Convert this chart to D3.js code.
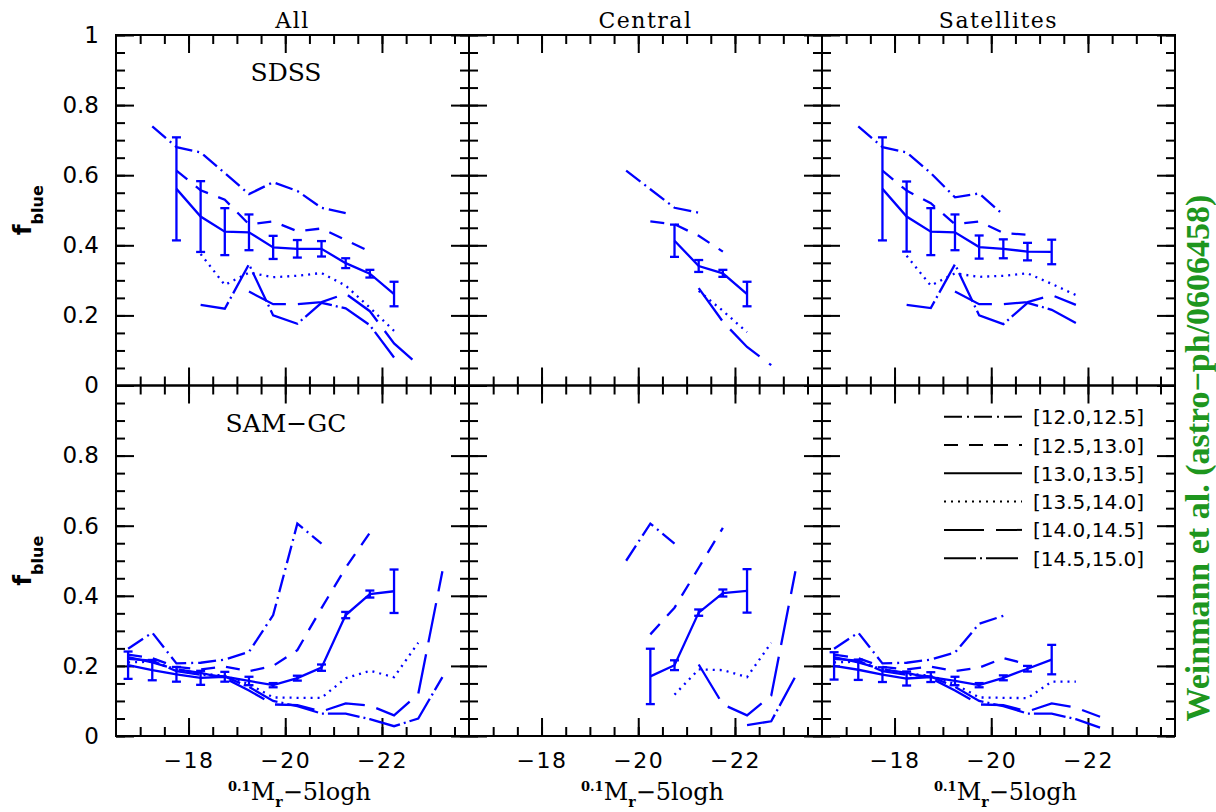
<!DOCTYPE html>
<html>
<head>
<meta charset="utf-8">
<title>Blue fraction vs luminosity</title>
<style>
  body { margin: 0; background: #fff; }
</style>
</head>
<body>
<svg id="chart" width="1216" height="812"></svg>
<script src="https://cdn.jsdelivr.net/npm/d3@7/dist/d3.min.js"></script>
<script>
// magnitude bins (0.1Mr - 5logh), 0.5 mag wide
var mags = [-16.75, -17.25, -17.75, -18.25, -18.75, -19.25, -19.75, -20.25, -20.75, -21.25, -21.75, -22.25, -22.75, -23.25];
var _ = null;

var massBins = ["[12.0,12.5]", "[12.5,13.0]", "[13.0,13.5]", "[13.5,14.0]", "[14.0,14.5]", "[14.5,15.0]"];
var colTitles = ["All", "Central", "Satellites"];
var rowNames = ["SDSS", "SAM\u2212GC"];

// f_blue per mass bin, one row per bin in massBins order
var sdssAll = [
  [_, .739, .68, .665, .606, .546, .58, .555, .507, .492, _, _, _, _],
  [_, _, .613, .557, .53, .46, .468, .44, .448, .415, .382, _, _, _],
  [_, _, .561, .482, .439, .437, .394, .39, .39, .349, .319, .261, _, _],
  [_, _, _, .375, .287, .322, .309, .313, .321, .285, .222, .156, _, _],
  [_, _, _, _, _, .268, .232, .232, .238, .262, .212, .12, .059, _],
  [_, _, _, .23, .219, .346, .2, .176, .236, .22, .172, .08, _, _]
];
var sdssAllErr = [_, _, .147, .101, .067, .051, .033, .025, .022, .014, .011, .035, _, _];

var sdssCen = [
  [_, _, _, _, _, _, .613, .56, .507, .493, _, _, _, _],
  [_, _, _, _, _, _, _, .468, .46, .427, .382, _, _, _],
  [_, _, _, _, _, _, _, _, .413, .341, .32, .261, _, _],
  [_, _, _, _, _, _, _, _, _, .27, .213, .152, _, _],
  [_, _, _, _, _, _, _, _, _, .278, .182, .11, .058, _],
  [_, _, _, _, _, _, _, _, _, _, _, _, _, _]
];
var sdssCenErr = [_, _, _, _, _, _, _, _, .046, .017, .01, .035, _, _];

var sdssSat = [
  [_, .739, .68, .665, .606, .537, .548, .487, _, _, _, _, _, _],
  [_, _, .613, .556, .52, .46, .468, .435, .43, _, _, _, _, _],
  [_, _, .561, .482, .439, .437, .395, .39, .382, .381, _, _, _, _],
  [_, _, _, .37, .285, .32, .31, .313, .32, .29, .258, _, _, _],
  [_, _, _, _, _, .268, .232, .232, .238, .258, .23, _, _, _],
  [_, _, _, .23, .221, .346, .2, .175, .236, .216, .178, _, _, _]
];
var sdssSatErr = [_, _, .147, .1, .067, .051, .033, .027, .025, .035, _, _, _, _];

var samAll = [
  [.249, .295, .207, .209, .218, .24, .345, .606, .549, _, _, _, _, _],
  [.232, .222, .197, .19, .198, .185, .2, .245, .365, .48, .58, _, _, _],
  [.202, .188, .176, .166, .169, .157, .145, .165, .195, .345, .405, .413, _, _],
  [.21, .212, .19, .178, .172, .148, .11, .109, .109, .165, .186, .168, .266, _],
  [.225, .21, .19, .18, .165, .13, .09, .088, .07, .093, .087, .059, .12, .47],
  [.22, .215, .185, .175, .17, .14, .1, .085, .064, .064, .048, .028, .05, .168]
];
var samAllErr = [.039, .029, .021, .02, .014, .012, .006, .007, .009, .009, .01, .062, _, _];

var samCen = [
  [_, _, _, _, _, _, .5, .606, .549, _, _, _, _, _],
  [_, _, _, _, _, _, _, .29, .366, .48, .594, _, _, _],
  [_, _, _, _, _, _, _, .17, .202, .352, .408, .414, _, _],
  [_, _, _, _, _, _, _, _, .118, .19, .188, .168, .266, _],
  [_, _, _, _, _, _, _, _, _, .204, .09, .059, .115, .47],
  [_, _, _, _, _, _, _, _, _, _, _, .031, .042, .17]
];
var samCenErr = [_, _, _, _, _, _, _, .079, .014, .009, .01, .062, _, _];

var samSat = [
  [.249, .295, .207, .209, .218, .238, .32, .343, _, _, _, _, _, _],
  [.232, .222, .197, .19, .198, .185, .195, .222, .205, _, _, _, _, _],
  [.2, .189, .175, .164, .168, .157, .145, .166, .192, .218, _, _, _, _],
  [.21, .212, .19, .178, .172, .148, .11, .109, .108, .155, .155, _, _, _],
  [.225, .21, .19, .18, .165, .13, .09, .088, .07, .093, .081, .055, _, _],
  [.22, .215, .185, .175, .17, .14, .1, .085, .064, .064, .048, .024, _, _]
];
var samSatErr = [.039, .029, .021, .02, .014, .012, .006, .007, .008, .042, _, _, _, _];

// line style per mass bin
var dashes = ["18,5,2,5", "14,11", null, "2,5", "40,12", "32,4,2,4"];

var W = 353, H = 350.5;
var colX = [116, 469, 822], rowY = [35, 385.5];
var blue = "#0000ff";

var svg = d3.select("#chart");

var x = d3.scaleLinear().domain([-16.5, -23.8]).range([0, W]);
var y = d3.scaleLinear().domain([0, 1]).range([H, 0]);

var panels = [
  {row: 0, col: 0, vals: sdssAll, err: sdssAllErr},
  {row: 0, col: 1, vals: sdssCen, err: sdssCenErr},
  {row: 0, col: 2, vals: sdssSat, err: sdssSatErr},
  {row: 1, col: 0, vals: samAll, err: samAllErr},
  {row: 1, col: 1, vals: samCen, err: samCenErr},
  {row: 1, col: 2, vals: samSat, err: samSatErr}
];

var xMajor = [-18, -20, -22];
var xMinor = d3.range(-17, -23.51, -0.5);
var yMajor = [0, 0.2, 0.4, 0.6, 0.8, 1];
var yMinor = d3.range(0, 1.001, 0.05);

function strip(g) {
  g.select(".domain").remove();
  g.selectAll("line").attr("stroke", "#000").attr("stroke-width", 2);
}

var line = d3.line()
  .defined(function(d) { return d.f !== null; })
  .x(function(d) { return x(d.m); })
  .y(function(d) { return y(d.f); });

panels.forEach(function(p) {
  var g = svg.append("g")
    .attr("transform", "translate(" + colX[p.col] + "," + rowY[p.row] + ")");

  // inward ticks on all four sides
  [[xMinor, 9], [xMajor, 18]].forEach(function(t) {
    g.append("g").attr("transform", "translate(0," + H + ")")
      .call(d3.axisBottom(x).tickValues(t[0]).tickSize(-t[1]).tickFormat("")).call(strip);
    g.append("g")
      .call(d3.axisTop(x).tickValues(t[0]).tickSize(-t[1]).tickFormat("")).call(strip);
  });
  [[yMinor, 9], [yMajor, 18]].forEach(function(t) {
    g.append("g")
      .call(d3.axisLeft(y).tickValues(t[0]).tickSize(-t[1]).tickFormat("")).call(strip);
    g.append("g").attr("transform", "translate(" + W + ",0)")
      .call(d3.axisRight(y).tickValues(t[0]).tickSize(-t[1]).tickFormat("")).call(strip);
  });

  g.append("rect")
    .attr("width", W).attr("height", H)
    .attr("fill", "none").attr("stroke", "#000").attr("stroke-width", 2);

  // tick labels on outer edges
  if (p.col === 0) {
    var yl = g.append("g")
      .call(d3.axisLeft(y)
        .tickValues(p.row === 0 ? yMajor : yMajor.slice(0, 5))
        .tickSize(0).tickPadding(17)
        .tickFormat(function(d) { return d === 0 || d === 1 ? String(d) : d.toFixed(1); }));
    yl.select(".domain").remove();
    yl.attr("font-family", "DejaVu Sans, sans-serif").attr("font-size", 23);
  }
  if (p.row === 1) {
    var xl = g.append("g").attr("transform", "translate(0," + H + ")")
      .call(d3.axisBottom(x).tickValues(xMajor).tickSize(0).tickPadding(16)
        .tickFormat(d3.format("d")));
    xl.select(".domain").remove();
    xl.attr("font-family", "DejaVu Sans, sans-serif").attr("font-size", 22)
      .selectAll("text").attr("letter-spacing", 1.5);
  }

  // one curve per halo mass bin
  p.vals.forEach(function(row, k) {
    var pts = mags.map(function(m, i) { return {m: m, f: row[i]}; });
    g.append("path").datum(pts)
      .attr("d", line)
      .attr("fill", "none")
      .attr("stroke", blue)
      .attr("stroke-width", 2.3)
      .attr("stroke-dasharray", dashes[k]);
  });

  // error bars on the [13.0,13.5] bin
  var eb = mags.map(function(m, i) { return {m: m, f: p.vals[2][i], e: p.err[i]}; })
    .filter(function(d) { return d.f !== null && d.e !== null; });
  var bars = g.append("g").attr("stroke", blue).attr("stroke-width", 2.3);
  bars.selectAll(".v").data(eb).enter().append("line")
    .attr("x1", function(d) { return x(d.m); }).attr("x2", function(d) { return x(d.m); })
    .attr("y1", function(d) { return y(d.f - d.e); }).attr("y2", function(d) { return y(d.f + d.e); });
  [-1, 1].forEach(function(s) {
    bars.selectAll(".c" + s).data(eb).enter().append("line")
      .attr("x1", function(d) { return x(d.m) - 4.5; }).attr("x2", function(d) { return x(d.m) + 4.5; })
      .attr("y1", function(d) { return y(d.f + s * d.e); }).attr("y2", function(d) { return y(d.f + s * d.e); });
  });

  if (p.row === 0) {
    g.append("text").text(colTitles[p.col])
      .attr("x", W / 2).attr("y", -7)
      .attr("text-anchor", "middle")
      .attr("font-family", "DejaVu Serif, serif").attr("font-size", 22)
      .attr("letter-spacing", 1.5);
  }
  if (p.col === 0) {
    g.append("text").text(rowNames[p.row])
      .attr("x", 170).attr("y", 46)
      .attr("text-anchor", "middle")
      .attr("font-family", "DejaVu Serif, serif").attr("font-size", 25);

    var yt = svg.append("text")
      .attr("transform", "translate(31," + (rowY[p.row] + H / 2) + ") rotate(-90)")
      .attr("text-anchor", "middle")
      .attr("font-family", "DejaVu Sans, sans-serif").attr("font-weight", "bold");
    yt.append("tspan").text("f").attr("font-size", 25);
    yt.append("tspan").text("blue").attr("font-size", 16).attr("dy", 12);
  }
  if (p.row === 1) {
    var xt = g.append("text")
      .attr("x", W / 2 + 7).attr("y", H + 64)
      .attr("text-anchor", "middle")
      .attr("font-family", "DejaVu Serif, serif").attr("font-size", 24);
    xt.append("tspan").text("0.1").attr("font-size", 13).attr("font-weight", "bold").attr("dy", -9);
    xt.append("tspan").text("M").attr("dy", 9);
    xt.append("tspan").text("r").attr("font-size", 14).attr("font-weight", "bold").attr("dy", 7);
    xt.append("tspan").text("\u22125logh").attr("dy", -7);
  }

  // legend lives in the lower right panel
  if (p.row === 1 && p.col === 2) {
    var lg = g.append("g");
    massBins.forEach(function(lab, k) {
      var ly = 31.2 + k * 28.3;
      lg.append("line")
        .attr("x1", 122).attr("x2", 200).attr("y1", ly).attr("y2", ly)
        .attr("stroke", "#000").attr("stroke-width", 2)
        .attr("stroke-dasharray", dashes[k]);
      lg.append("text").text(lab)
        .attr("x", 211).attr("y", ly + 7.5)
        .attr("font-family", "DejaVu Sans, sans-serif").attr("font-size", 20);
    });
  }
});

svg.append("text")
  .text("Weinmann et al. (astro\u2212ph/0606458)")
  .attr("transform", "translate(1209,458) rotate(-90)")
  .attr("text-anchor", "middle")
  .attr("font-family", "Liberation Serif, serif")
  .attr("font-weight", "bold")
  .attr("font-size", 34)
  .attr("fill", "#1e961e");
</script>
</body>
</html>
